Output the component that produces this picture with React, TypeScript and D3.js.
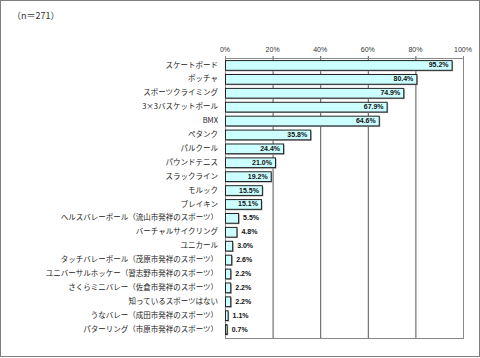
import React from "react";
import * as d3 from "d3";

const categories = [
  "スケートボード",
  "ボッチャ",
  "スポーツクライミング",
  "3×3バスケットボール",
  "BMX",
  "ペタンク",
  "パルクール",
  "パウンドテニス",
  "スラックライン",
  "モルック",
  "ブレイキン",
  "ヘルスバレーボール（流山市発祥のスポーツ）",
  "バーチャルサイクリング",
  "ユニカール",
  "タッチバレーボール（茂原市発祥のスポーツ）",
  "ユニバーサルホッケー（習志野市発祥のスポーツ）",
  "さくらミニバレー（佐倉市発祥のスポーツ）",
  "知っているスポーツはない",
  "うなバレー（成田市発祥のスポーツ）",
  "パターリング（市原市発祥のスポーツ）",
];
const values = [95.2, 80.4, 74.9, 67.9, 64.6, 35.8, 24.4, 21.0, 19.2, 15.5, 15.1, 5.5, 4.8, 3.0, 2.6, 2.2, 2.2, 2.2, 1.1, 0.7];
const ticks = [0, 20, 40, 60, 80, 100];
const note = "（n＝271）";

export default function App() {
  const W = 480, H = 358;
  const x = d3.scaleLinear().domain([0, 100]).range([225, 463]);
  const y = d3.scaleBand<string>().domain(categories).range([58, 336]).paddingInner(0.3).paddingOuter(0.15);
  const top = 58, bottom = 338;
  const jp = "'Noto Sans CJK JP', sans-serif";
  const num = "'Liberation Sans', Arial, sans-serif";
  return (
    <svg width={W} height={H} style={{ position: "absolute", left: 0, top: 0, display: "block" }}>
      <rect x={0} y={0} width={W} height={H} fill="#fff" />
      <rect x={0.5} y={0.5} width={W - 1} height={H - 2} fill="none" stroke="#7f7f7f" />
      <text x={12} y={19} fontFamily={jp} fontSize={9} fill="#333">{note}</text>
      {ticks.map((t) => (
        <g key={t}>
          <line x1={x(t) + 0.5} x2={x(t) + 0.5} y1={top - 2} y2={bottom} stroke={t === 0 || t === 100 ? "#888" : "#555"} strokeWidth={1} />
          <text x={x(t)} y={52} textAnchor="middle" fontFamily={num} fontSize={7} fill="#333">{t}%</text>
        </g>
      ))}
      <line x1={x(0)} x2={x(100) + 1} y1={top + 0.5} y2={top + 0.5} stroke="#888" />
      <line x1={x(0)} x2={x(100) + 1} y1={bottom + 0.5} y2={bottom + 0.5} stroke="#888" />
      {categories.map((c, i) => {
        const v = values[i];
        const by = y(c)!;
        const bh = y.bandwidth();
        const bw = x(v) - x(0);
        const cy = by + bh / 2;
        const inside = v > 10;
        return (
          <g key={c}>
            <rect x={x(0) + 1.5} y={by + 1.5} width={bw} height={bh} fill="#999" />
            <rect x={x(0) + 0.5} y={by + 0.5} width={bw} height={bh} fill="#ccffff" stroke="#222" strokeWidth={1} />
            <text x={218} y={cy} dy="0.35em" textAnchor="end" fontFamily={jp} fontSize={7.5} fill="#222">{c}</text>
            <text
              x={inside ? x(v) - 3 : x(v) + 5}
              y={cy}
              dy="0.35em"
              textAnchor={inside ? "end" : "start"}
              fontFamily={num}
              fontSize={7}
              fontWeight="bold"
              fill="#111"
            >
              {v.toFixed(1)}%
            </text>
          </g>
        );
      })}
    </svg>
  );
}
